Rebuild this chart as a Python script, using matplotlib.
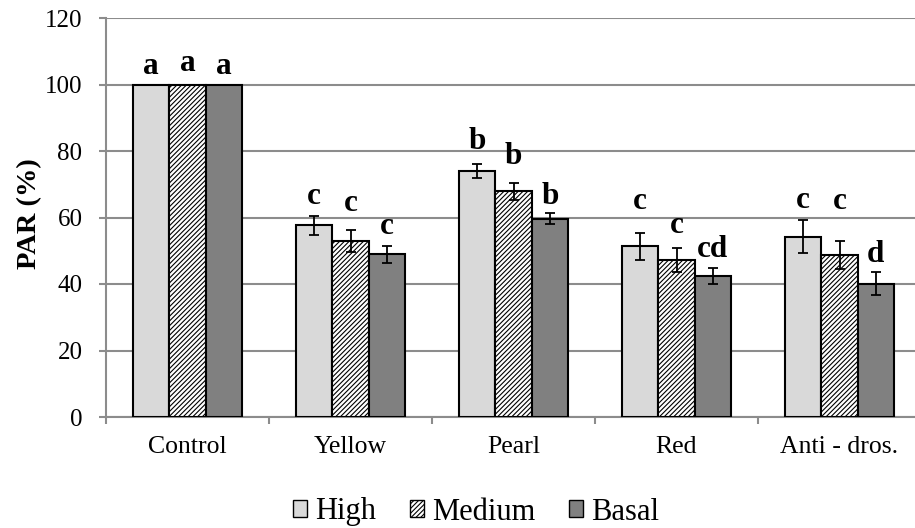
import numpy as np
import matplotlib
matplotlib.use('Agg')
import matplotlib.pyplot as plt

plt.rcParams['font.family'] = ['Liberation Serif', 'DejaVu Serif']
plt.rcParams['hatch.linewidth'] = 0.8

categories = ['Control', 'Yellow', 'Pearl', 'Red', 'Anti - dros.']
series = ['High', 'Medium', 'Basal']

high = [100, 57.6, 74.0, 51.3, 54.2]
medium = [100, 52.9, 67.9, 47.2, 48.6]
basal = [100, 48.9, 59.6, 42.5, 40.1]

high_err = [0, 2.8, 2.1, 4.0, 4.9]
medium_err = [0, 3.2, 2.5, 3.7, 4.2]
basal_err = [0, 2.5, 1.7, 2.4, 3.4]

high_letters = ['a', 'c', 'b', 'c', 'c']
medium_letters = ['a', 'c', 'b', 'c', 'c']
basal_letters = ['a', 'c', 'b', 'cd', 'd']

# gap between error bar top and letter baseline (layout, data units)
high_gap = [3.3, 3.8, 4.4, 7.2, 3.9]
medium_gap = [4.2, 5.8, 5.7, 4.3, 9.7]
basal_gap = [3.2, 3.6, 2.8, 3.1, 3.1]

fig = plt.figure(figsize=(9.15, 5.28), dpi=100)
ax = fig.add_axes([106 / 915, 111 / 528, 815 / 915, 399 / 528])

x = np.arange(len(categories)) + 0.5
w = 0.223

colors = ['#d9d9d9', 'white', '#808080']
hatches = [None, '///////', None]
vals = [high, medium, basal]
errs = [high_err, medium_err, basal_err]
letters = [high_letters, medium_letters, basal_letters]
gaps = [high_gap, medium_gap, basal_gap]

for i in range(3):
    pos = x + (i - 1) * w
    ax.bar(pos, vals[i], width=w, color=colors[i], hatch=hatches[i],
           edgecolor='black', linewidth=1.5, label=series[i], zorder=3)
    e = np.array(errs[i])
    m = e > 0
    ax.errorbar(pos[m], np.array(vals[i])[m], yerr=e[m], fmt='none', ecolor='black',
                elinewidth=1.3, capsize=3.5, capthick=1.3, zorder=4)
    for p, v, er, t, g in zip(pos, vals[i], errs[i], letters[i], gaps[i]):
        ax.text(p, v + er + g, t, ha='center', va='baseline', fontsize=22.5,
                fontweight='bold', zorder=5)

ax.set_ylim(0, 120)
ax.set_xlim(0, 5)
ax.set_yticks(np.arange(0, 121, 20))
ax.yaxis.grid(True, color='#8c8c8c', linewidth=1.5, zorder=0)
ax.set_axisbelow(True)

ax.set_xticks(x)
ax.set_xticklabels(categories, fontsize=18.5)
ax.set_xticks(np.arange(0, 6), minor=True)
ax.tick_params(axis='x', which='major', length=0, pad=14)
ax.tick_params(axis='x', which='minor', length=5, width=1.5, color='#8c8c8c')
ax.tick_params(axis='y', length=5, width=1.5, color='#8c8c8c', labelsize=18, pad=12)

for s in ['top', 'right']:
    ax.spines[s].set_visible(False)
for s in ['left', 'bottom']:
    ax.spines[s].set_color('#8c8c8c')
    ax.spines[s].set_linewidth(1.5)

ax.set_ylabel('PAR (%)', fontsize=20.5, fontweight='bold')
ax.yaxis.set_label_coords(-0.078, 0.51)

leg = fig.legend(loc='center', bbox_to_anchor=(476 / 915, 1 - 512 / 528), ncol=3, frameon=False,
                 fontsize=22, handlelength=0.46, handleheight=0.46, handletextpad=0.26,
                 columnspacing=1.1, borderpad=0)
for h in leg.legend_handles:
    h.set_linewidth(1.0)

fig.savefig('out.png', dpi=100)
